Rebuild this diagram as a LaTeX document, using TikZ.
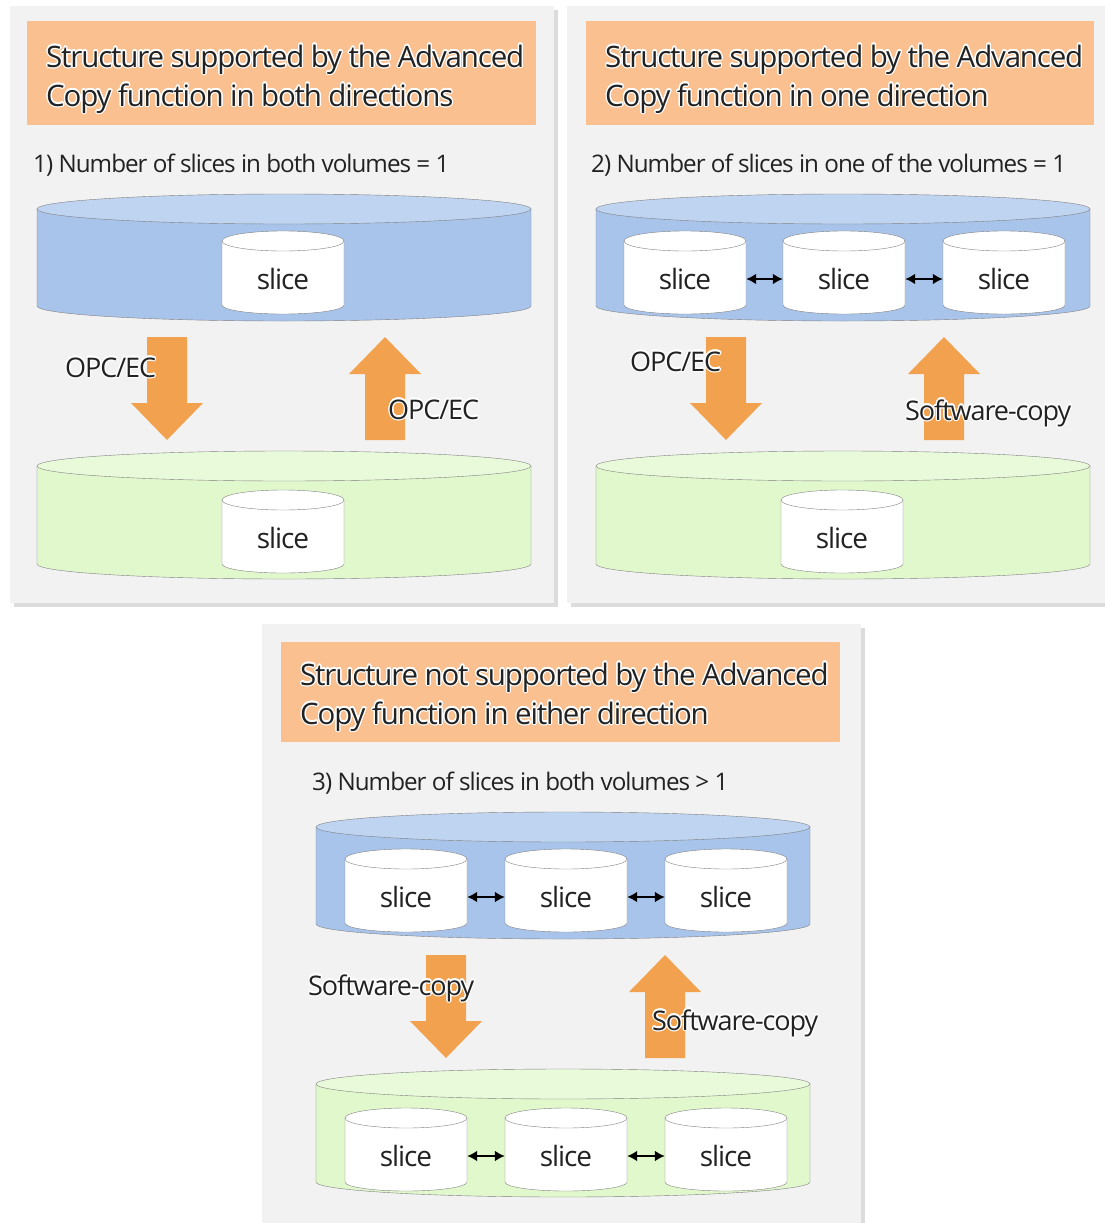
\documentclass[tikz,border=0pt]{standalone}
\usepackage{fontspec}
\setmainfont{Open Sans}[LetterSpace=-4]
\usepackage[copies]{contour}
\contourlength{1.3pt}
\usetikzlibrary{arrows.meta,positioning}
\definecolor{panelgray}{HTML}{F2F2F2}
\definecolor{shadowgray}{HTML}{DCDCDC}
\definecolor{headpeach}{HTML}{FAC090}
\definecolor{copyorange}{HTML}{F2A14E}
\definecolor{volblue}{HTML}{A9C4EB}
\definecolor{volbluetop}{HTML}{BED4F1}
\definecolor{volgreen}{HTML}{E1F8CD}
\definecolor{volgreentop}{HTML}{E9FADA}
\definecolor{edgegray}{HTML}{808080}
\definecolor{inkgray}{HTML}{222222}

% gray panel with a soft shadow
\newcommand{\panelbg}[4]{
    \fill[shadowgray] (#1+4,#2+4) rectangle (#3+4,#4+4);
    \fill[panelgray] (#1,#2) rectangle (#3,#4);
}
% volume: fill, top fill, centre x, x radius, top y, bottom y
\newcommand{\volcyl}[6]{
    \filldraw[fill=#1, draw=edgegray] (#3-#4,#5) -- (#3-#4,#6)
        arc[start angle=180, end angle=360, x radius=#4pt, y radius=15pt] -- (#3+#4,#5) -- cycle;
    \filldraw[fill=#2, draw=edgegray] (#3,#5) ellipse[x radius=#4pt, y radius=15pt];
}
% slice: name, centre x, centre y
\newcommand{\slicecyl}[3]{
    \filldraw[fill=white, draw=edgegray] (#2-61,#3-38) -- (#2-61,#3+26)
        arc[start angle=180, end angle=360, x radius=61pt, y radius=9pt] -- (#2+61,#3-38) -- cycle;
    \filldraw[fill=white, draw=edgegray] (#2,#3-38) ellipse[x radius=61pt, y radius=10pt];
    \node[slicebox] (#1) at (#2,#3) {slice};
}
% big copy arrows: centre x, tail y, tip y
\newcommand{\copydown}[3]{
    \fill[copyorange] (#1-20,#2) -- (#1+20,#2) -- (#1+20,#3-37) -- (#1+36,#3-37)
        -- (#1,#3) -- (#1-36,#3-37) -- (#1-20,#3-37) -- cycle;
}
\newcommand{\copyup}[3]{
    \fill[copyorange] (#1-20,#2) -- (#1+20,#2) -- (#1+20,#3+37) -- (#1+36,#3+37)
        -- (#1,#3) -- (#1-36,#3+37) -- (#1-20,#3+37) -- cycle;
}
% white halo round a text
\newcommand{\halo}[1]{\contour{white}{#1}}

\begin{document}
\begin{tikzpicture}[x=1pt,y=-1pt,
    headbox/.style={fill=headpeach, anchor=north west, inner sep=0pt},
    headtext/.style={anchor=base west, inner sep=0pt, text=inkgray, font=\fontsize{29.5}{35}\selectfont},
    subtext/.style={anchor=base west, inner sep=0pt, text=inkgray, font=\fontsize{24.2}{28}\selectfont},
    copytext/.style={anchor=base west, inner sep=0pt, text=inkgray, font=\fontsize{27}{30}\selectfont},
    slicebox/.style={minimum width=122pt, inner sep=0pt, text=inkgray, font=\fontsize{28}{32}\selectfont},
    sync/.style={{Latex[length=10pt,width=11pt]}-{Latex[length=10pt,width=11pt]}, line width=2.4pt, black}]
\useasboundingbox (0,0) rectangle (1104,1223);

%% 1) both directions
\panelbg{10}{6}{554}{603}
\node[headbox, minimum width=509pt, minimum height=104pt] (head1) at (27,21) {};
\node[headtext] (head1a) at (46,67) {\halo{Structure supported by the Advanced}};
\node[headtext] (head1b) at (46,106) {\halo{Copy function in both directions}};
\node[subtext] (sub1) at (33,172) {1) Number of slices in both volumes = 1};
\volcyl{volblue}{volbluetop}{284}{247}{209}{306}
\slicecyl{src1}{283}{279}
\volcyl{volgreen}{volgreentop}{284}{247}{466}{564}
\slicecyl{dst1}{283}{538}
\copydown{167}{337}{440}
\copyup{385}{440}{337}
\node[copytext] (opc1a) at (65,377) {\halo{OPC/EC}};
\node[copytext] (opc1b) at (388,419) {\halo{OPC/EC}};

%% 2) one direction
\panelbg{567}{6}{1112}{603}
\node[headbox, minimum width=508pt, minimum height=104pt] (head2) at (586,21) {};
\node[headtext] (head2a) at (605,67) {\halo{Structure supported by the Advanced}};
\node[headtext] (head2b) at (605,106) {\halo{Copy function in one direction}};
\node[subtext] (sub2) at (591,172) {2) Number of slices in one of the volumes = 1};
\volcyl{volblue}{volbluetop}{843}{247}{209}{306}
\slicecyl{src2a}{685}{279}
\slicecyl{src2b}{844}{279}
\slicecyl{src2c}{1004}{279}
\draw[sync] (src2a) -- (src2b);
\draw[sync] (src2b) -- (src2c);
\volcyl{volgreen}{volgreentop}{843}{247}{466}{564}
\slicecyl{dst2}{842}{538}
\copydown{726}{337}{440}
\copyup{944}{440}{337}
\node[copytext] (opc2) at (630,371) {\halo{OPC/EC}};
\node[copytext] (soft2) at (905,420) {\halo{Software-copy}};

%% 3) neither direction
\panelbg{262}{624}{861}{1240}
\node[headbox, minimum width=559pt, minimum height=100pt] (head3) at (281,642) {};
\node[headtext] (head3a) at (300,685) {\halo{Structure not supported by the Advanced}};
\node[headtext] (head3b) at (300,724) {\halo{Copy function in either direction}};
\node[subtext] (sub3) at (312,790) {3) Number of slices in both volumes > 1};
\volcyl{volblue}{volbluetop}{563}{247}{827}{924}
\slicecyl{src3a}{406}{897}
\slicecyl{src3b}{566}{897}
\slicecyl{src3c}{726}{897}
\draw[sync] (src3a) -- (src3b);
\draw[sync] (src3b) -- (src3c);
\volcyl{volgreen}{volgreentop}{563}{247}{1084}{1182}
\slicecyl{dst3a}{406}{1156}
\slicecyl{dst3b}{566}{1156}
\slicecyl{dst3c}{726}{1156}
\draw[sync] (dst3a) -- (dst3b);
\draw[sync] (dst3b) -- (dst3c);
\copydown{446}{955}{1058}
\copyup{665}{1058}{955}
\node[copytext] (soft3a) at (308,995) {\halo{Software-copy}};
\node[copytext] (soft3b) at (652,1030) {\halo{Software-copy}};
\end{tikzpicture}
\end{document}
